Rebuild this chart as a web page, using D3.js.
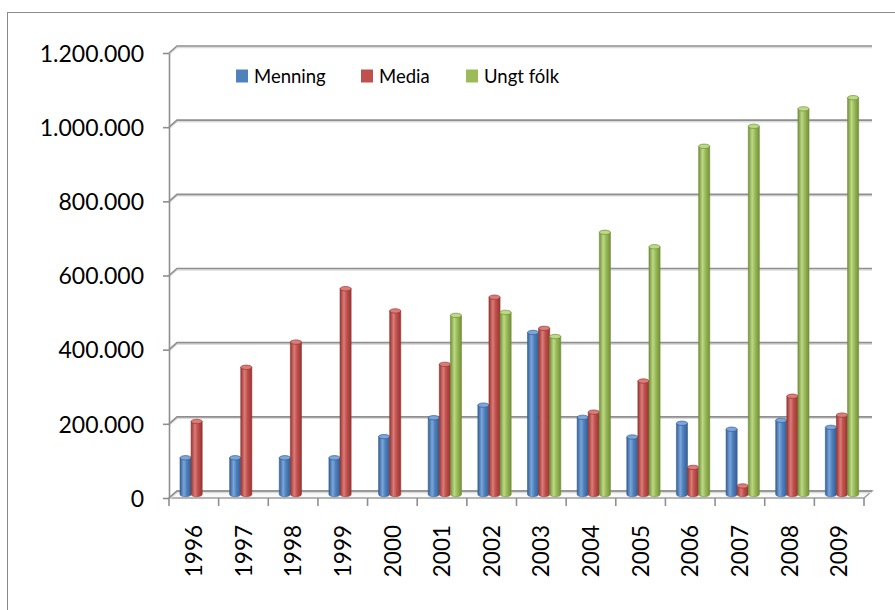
<!DOCTYPE html>
<html><head><meta charset="utf-8">
<script src="https://cdn.jsdelivr.net/npm/d3@7"></script>
<style>body{margin:0;background:#fff}svg{display:block}text{font-family:Lato,"Open Sans",sans-serif;fill:#000}</style>
</head><body><svg id="c" width="895" height="610"></svg>
<script>
const years = ["1996","1997","1998","1999","2000","2001","2002","2003","2004","2005","2006","2007","2008","2009"];
const seriesNames = ["Menning","Media","Ungt fólk"];
const menning = [99000,99000,99000,99000,156000,207000,241000,437000,208000,155000,192000,176000,200000,181000];
const media = [197000,343000,411000,555000,495000,351000,532000,448000,222000,306000,73000,23000,265000,214000];
const ungtFolk = [null,null,null,null,null,483000,491000,426000,707000,668000,939000,993000,1040000,1070000];
const yTicks = [0,200000,400000,600000,800000,1000000,1200000];
const yTickLabels = ["0","200.000","400.000","600.000","800.000","1.000.000","1.200.000"];
const colors = ["#4F81BD","#C0504D","#9BBB59"];
const edgeColors = ["#355f93","#963532","#738f3a"];
const lightColors = ["#7aa6dc","#dc7c79","#bcd985"];

const svg = d3.select("#c");
const defs = svg.append("defs");
colors.forEach((c,i)=>{
  const g = defs.append("linearGradient").attr("id","g"+i).attr("x1","0").attr("x2","1").attr("y1","0").attr("y2","0");
  g.append("stop").attr("offset","0").attr("stop-color",edgeColors[i]);
  g.append("stop").attr("offset","0.35").attr("stop-color",lightColors[i]);
  g.append("stop").attr("offset","0.6").attr("stop-color",c);
  g.append("stop").attr("offset","1").attr("stop-color",edgeColors[i]);
});

// outer border
svg.append("rect").attr("x",7.5).attr("y",12.5).attr("width",1000).attr("height",1000)
  .attr("fill","none").attr("stroke","#8a8a8a").attr("stroke-width",1);

const x0 = 169, x1 = 864;
const DX = 8, DY = -7;
const x = d3.scaleBand().domain(years).range([x0, x1]).padding(0);
const y = d3.scaleLinear().domain([0,1200000]).range([498,53]);

// floor
svg.append("polygon")
  .attr("points",[[x0,y(0)],[x1,y(0)],[x1+DX,y(0)+DY],[x0+DX,y(0)+DY]].map(p=>p.join(",")).join(" "))
  .attr("fill","#fafafa").attr("stroke","#a0a0a0").attr("stroke-width",1.5);

// gridlines on back wall with diagonal on side wall
const grid = svg.append("g");
yTicks.forEach(t=>{
  const yf = y(t), yb = y(t)+DY;
  grid.append("path").attr("d",`M${x0},${yf}L${x0+DX},${yb}L${x1+DX},${yb}`)
    .attr("fill","none").attr("stroke","#dcdcdc").attr("stroke-width",1.5).attr("transform","translate(0,1.5)");
  grid.append("path").attr("d",`M${x0},${yf}L${x0+DX},${yb}L${x1+DX},${yb}`)
    .attr("fill","none").attr("stroke","#8f8f8f").attr("stroke-width",1.6);
});

// y axis
const yAxis = d3.axisLeft(y).tickValues(yTicks).tickFormat((d,i)=>yTickLabels[i]).tickSize(6).tickSizeOuter(0).tickPadding(19);
const ga = svg.append("g").attr("transform",`translate(${x0},0)`).call(yAxis);
ga.select(".domain").attr("stroke","#8f8f8f").attr("stroke-width",1.6);
ga.selectAll(".tick line").attr("stroke","#8f8f8f").attr("stroke-width",1.6);
ga.selectAll("text").attr("font-size",23).attr("font-family","Lato").attr("fill","#000").attr("dy","0.36em");

// x axis: boundary ticks + rotated labels
const gx = svg.append("g");
years.concat(["end"]).forEach((yr,i)=>{
  const xx = yr==="end" ? x1 : x(yr);
  gx.append("line").attr("x1",xx).attr("x2",xx).attr("y1",y(0)).attr("y2",y(0)+8)
    .attr("stroke","#8f8f8f").attr("stroke-width",1.6);
});
gx.selectAll("text.yl").data(years).join("text").attr("class","yl")
  .attr("transform",d=>`translate(${x(d)+x.bandwidth()/2},525) rotate(-90)`)
  .attr("text-anchor","end").attr("dy","0.36em").attr("font-size",22.5).text(d=>d);

// bars
const allSeries = [menning, media, ungtFolk];
const inner = d3.scaleBand().domain(seriesNames).range([0,33.3]).padding(0);
const bars = svg.append("g");
const bw = inner.bandwidth();
const ry = 2.2;
years.forEach((yr,j)=>{
  allSeries.forEach((s,i)=>{
    const v = s[j];
    if (v==null) return;
    const bx = x(yr) + 11 + inner(seriesNames[i]);
    const yb = y(0) + DY/2, yt = y(v) + DY/2;
    const g = bars.append("g");
    g.append("path")
      .attr("d",`M${bx},${yt}L${bx},${yb}A${bw/2},${ry} 0 0 0 ${bx+bw},${yb}L${bx+bw},${yt}Z`)
      .attr("fill",`url(#g${i})`).attr("stroke",edgeColors[i]).attr("stroke-width",0.6);
    g.append("ellipse").attr("cx",bx+bw/2).attr("cy",yt).attr("rx",bw/2).attr("ry",ry)
      .attr("fill",lightColors[i]).attr("stroke",edgeColors[i]).attr("stroke-width",0.7);
  });
});

// legend
const legendX = [236, 361, 466];
const lg = svg.append("g");
seriesNames.forEach((n,i)=>{
  lg.append("rect").attr("x",legendX[i]).attr("y",69.5).attr("width",12).attr("height",13).attr("fill",colors[i]);
  lg.append("text").attr("x",legendX[i]+18).attr("y",76).attr("dy","0.36em").attr("font-size",18.5).text(n);
});
</script></body></html>
